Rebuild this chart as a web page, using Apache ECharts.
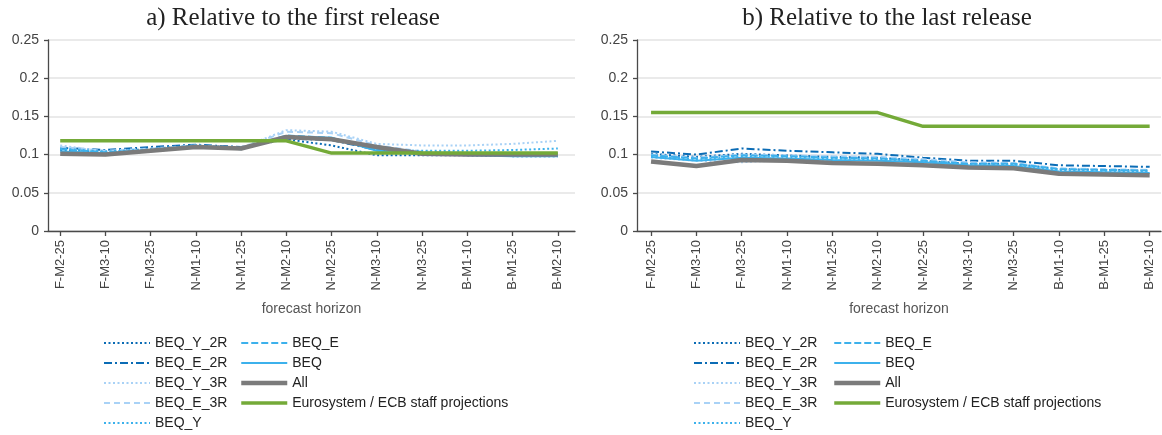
<!DOCTYPE html>
<html>
<head>
<meta charset="utf-8">
<script src="https://cdn.jsdelivr.net/npm/echarts@6/dist/echarts.min.js"></script>
<style>
html,body{margin:0;padding:0;background:#fff;}
#chart{width:1162px;height:435px;}
</style>
</head>
<body>
<div id="chart"></div>
<script>
// ---------- data ----------
const categories = ["F-M2-25","F-M3-10","F-M3-25","N-M1-10","N-M1-25","N-M2-10","N-M2-25","N-M3-10","N-M3-25","B-M1-10","B-M1-25","B-M2-10"];
const yTicks = [0, 0.05, 0.1, 0.15, 0.2, 0.25];
const titles = ["a) Relative to the first release", "b) Relative to the last release"];
const xAxisTitle = "forecast horizon";
const seriesNames = ["BEQ_Y_2R","BEQ_E_2R","BEQ_Y_3R","BEQ_E_3R","BEQ_Y","BEQ_E","BEQ","All","Eurosystem / ECB staff projections"];

// panel a) relative to the first release
const a_BEQ_Y_2R = [0.106,0.104,0.107,0.112,0.109,0.120,0.112,0.099,0.099,0.099,0.098,0.098];
const a_BEQ_E_2R = [0.109,0.106,0.110,0.113,0.110,0.121,0.119,0.106,0.101,0.100,0.099,0.099];
const a_BEQ_Y_3R = [0.112,0.104,0.107,0.112,0.109,0.132,0.130,0.114,0.112,0.112,0.114,0.118];
const a_BEQ_E_3R = [0.110,0.105,0.108,0.112,0.109,0.130,0.128,0.112,0.104,0.102,0.101,0.101];
const a_BEQ_Y    = [0.108,0.104,0.107,0.112,0.108,0.124,0.121,0.106,0.105,0.105,0.106,0.108];
const a_BEQ_E    = [0.107,0.103,0.106,0.111,0.108,0.125,0.122,0.106,0.101,0.100,0.099,0.099];
const a_BEQ      = [0.104,0.102,0.105,0.111,0.107,0.124,0.122,0.105,0.101,0.099,0.098,0.098];
const a_All      = [0.101,0.100,0.105,0.110,0.108,0.123,0.120,0.110,0.101,0.100,0.100,0.100];
const a_ECB      = [0.118,0.118,0.118,0.118,0.118,0.118,0.102,0.102,0.102,0.102,0.102,0.102];

// panel b) relative to the last release
const b_BEQ_Y_2R = [0.101,0.097,0.101,0.099,0.097,0.096,0.092,0.088,0.088,0.081,0.080,0.079];
const b_BEQ_E_2R = [0.104,0.100,0.108,0.105,0.103,0.101,0.096,0.092,0.092,0.086,0.085,0.084];
const b_BEQ_Y_3R = [0.096,0.092,0.090,0.093,0.092,0.093,0.090,0.086,0.086,0.079,0.078,0.078];
const b_BEQ_E_3R = [0.100,0.096,0.100,0.099,0.098,0.097,0.094,0.090,0.089,0.082,0.081,0.080];
const b_BEQ_Y    = [0.098,0.094,0.098,0.097,0.095,0.094,0.091,0.087,0.087,0.080,0.079,0.078];
const b_BEQ_E    = [0.099,0.095,0.099,0.098,0.096,0.095,0.092,0.088,0.088,0.081,0.080,0.079];
const b_BEQ      = [0.097,0.092,0.096,0.095,0.093,0.092,0.090,0.086,0.085,0.078,0.077,0.076];
const b_All      = [0.091,0.085,0.093,0.092,0.089,0.088,0.086,0.083,0.082,0.075,0.074,0.073];
const b_ECB      = [0.155,0.155,0.155,0.155,0.155,0.155,0.137,0.137,0.137,0.137,0.137,0.137];

const panelA = [a_BEQ_Y_2R,a_BEQ_E_2R,a_BEQ_Y_3R,a_BEQ_E_3R,a_BEQ_Y,a_BEQ_E,a_BEQ,a_All,a_ECB];
const panelB = [b_BEQ_Y_2R,b_BEQ_E_2R,b_BEQ_Y_3R,b_BEQ_E_3R,b_BEQ_Y,b_BEQ_E,b_BEQ,b_All,b_ECB];

// ---------- styles ----------
const DARK = '#0b6cb5', MID = '#3cb1ec', LIGHT = '#a9d2f6';
const styles = [
  {color: DARK,  width: 2,   type: [2, 2.5]},
  {color: DARK,  width: 2,   type: [8, 3, 2, 3]},
  {color: LIGHT, width: 2,   type: [2, 2.5]},
  {color: LIGHT, width: 2,   type: [6, 4]},
  {color: MID,   width: 2,   type: [2, 2.5]},
  {color: MID,   width: 2,   type: [7, 3]},
  {color: MID,   width: 2,   type: 'solid'},
  {color: '#7b7b7b', width: 4.5, type: 'solid'},
  {color: '#74aa38', width: 3.5, type: 'solid'}
];

const SANS = '"Liberation Sans", Arial, sans-serif';
const SERIF = '"Liberation Serif", "Times New Roman", serif';
const tickIdx = categories.map((c, i) => i);

const grids = [
  {left: 48, top: 40, width: 527, height: 191},
  {left: 637, top: 40, width: 524, height: 191}
];
const xRanges = [[-0.27, 11.38], [-0.31, 11.25]];

const xAxes = grids.map((g, k) => ({
  type: 'value', gridIndex: k,
  min: xRanges[k][0], max: xRanges[k][1],
  name: xAxisTitle, nameLocation: 'middle', nameGap: 71,
  nameTextStyle: {fontFamily: SANS, fontSize: 14, color: '#555'},
  axisLine: {show: true, onZero: false, lineStyle: {color: '#4a4a4a', width: 1.3}},
  axisTick: {show: true, customValues: tickIdx, length: 5, lineStyle: {color: '#4a4a4a', width: 1.3}},
  axisLabel: {customValues: tickIdx, rotate: 90, margin: 9, fontFamily: SANS, fontSize: 13, color: '#444',
    formatter: v => categories[Math.round(v)] || ''},
  splitLine: {show: false}
}));

const yAxes = grids.map((g, k) => ({
  type: 'value', gridIndex: k, min: yTicks[0], max: yTicks[yTicks.length - 1], interval: 0.05,
  axisLine: {show: true, onZero: false, lineStyle: {color: '#4a4a4a', width: 1.3}},
  axisTick: {show: true, length: 4, lineStyle: {color: '#4a4a4a', width: 1.3}},
  axisLabel: {fontFamily: SANS, fontSize: 14, color: '#444', margin: 9,
    formatter: v => String(parseFloat(v.toFixed(2)))},
  splitLine: {show: true, lineStyle: {color: '#e3e3e3', width: 1.5}}
}));

const series = [];
[panelA, panelB].forEach((panel, k) => {
  panel.forEach((vals, j) => {
    series.push({
      type: 'line', name: seriesNames[j], xAxisIndex: k, yAxisIndex: k,
      data: vals.map((v, i) => [i, v]),
      symbol: 'none', showSymbol: false, smooth: false, silent: true, animation: false,
      lineStyle: {color: styles[j].color, width: styles[j].width, type: styles[j].type},
      itemStyle: {color: styles[j].color},
      z: 2 + j
    });
  });
});

const legendBase = {
  orient: 'vertical', selectedMode: false, itemWidth: 46, itemHeight: 14, itemGap: 6,
  padding: 0, height: 100,
  textStyle: {fontFamily: SANS, fontSize: 14, color: '#222'},
  itemStyle: {color: 'rgba(0,0,0,0)', borderColor: 'rgba(0,0,0,0)', borderWidth: 0, opacity: 0},
  lineStyle: {width: 'inherit', type: 'inherit', color: 'inherit'}
};
const legendCols = [[103, 0, 5], [239, 5, 9], [693, 0, 5], [832, 5, 9]];
const legends = legendCols.map(c => Object.assign({}, legendBase, {
  left: c[0], top: 336, data: seriesNames.slice(c[1], c[2])
}));

const option = {
  animation: false,
  backgroundColor: '#fff',
  title: [
    {text: titles[0], left: 288, top: 1, textAlign: 'center',
     textStyle: {fontFamily: SERIF, fontSize: 25, fontWeight: 'normal', color: '#222'}},
    {text: titles[1], left: 882, top: 1, textAlign: 'center',
     textStyle: {fontFamily: SERIF, fontSize: 25, fontWeight: 'normal', color: '#222'}}
  ],
  grid: grids,
  xAxis: xAxes,
  yAxis: yAxes,
  legend: legends,
  series: series
};

const chart = echarts.init(document.getElementById('chart'), null, {renderer: 'canvas'});
chart.setOption(option);
</script>
</body>
</html>
